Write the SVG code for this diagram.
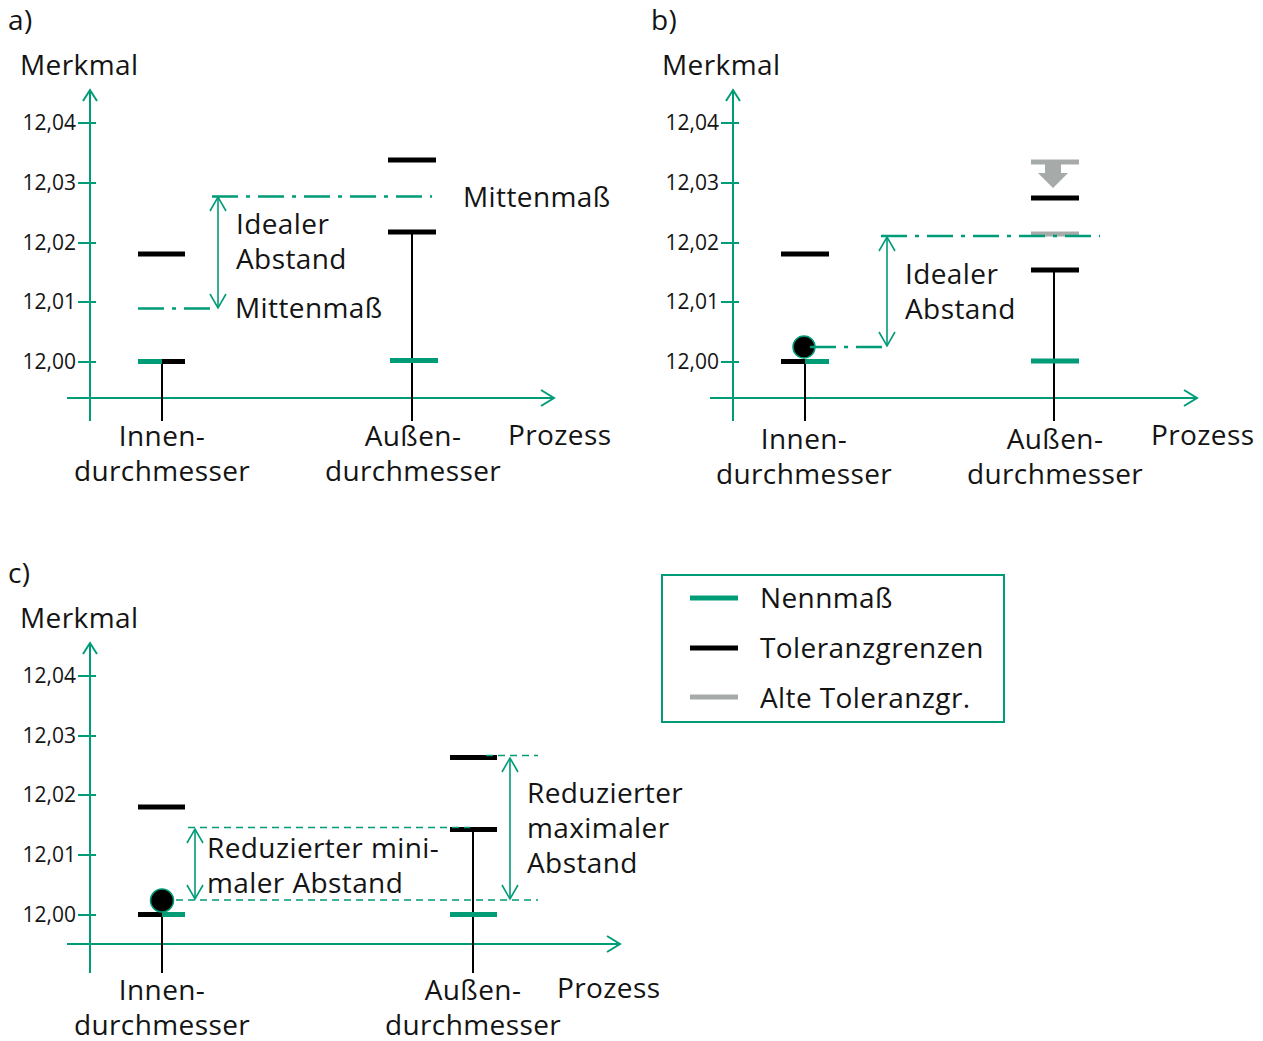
<svg xmlns="http://www.w3.org/2000/svg" width="1263" height="1041" viewBox="0 0 1263 1041">
  <style>
    text { font-family: "Open Sans", "Liberation Sans", sans-serif; fill: #141414; }
    .lbl { font-size: 28px; letter-spacing: 0.4px; }
    .tick { font-size: 21px; text-anchor: end; }
    .mid { text-anchor: middle; }
    .axis { stroke: #009b77; stroke-width: 2; fill: none; }
    .arrowhead { stroke: #009b77; stroke-width: 2; fill: none; }
    .dim { stroke: #009b77; stroke-width: 1.6; fill: none; }
    .nom { stroke: #009b77; stroke-width: 5; }
    .tol { stroke: #000; stroke-width: 5; }
    .old { stroke: #a6aba9; stroke-width: 5; }
    .stem { stroke: #000; stroke-width: 2; }
    .dashdot { stroke: #009b77; stroke-width: 2.4; fill: none; stroke-dasharray: 26 8 4 8; }
    .dashed { stroke: #009b77; stroke-width: 1.6; fill: none; stroke-dasharray: 7 5; }
    .point { fill: #000; stroke: #009b77; stroke-width: 1.5; }
  </style>

  <!-- panel a -->
  <g id="panel-a">
    <text x="8" y="30" class="lbl">a)</text>
    <text x="20" y="75" class="lbl">Merkmal</text>
    <g id="axes-a">
      <line x1="90" y1="421" x2="90" y2="90" class="axis"/>
      <polyline points="83,101 90,90 97,101" class="arrowhead"/>
      <line x1="67" y1="398" x2="554" y2="398" class="axis"/>
      <polyline points="541,390 554,398 541,406" class="arrowhead"/>
      <line x1="78" y1="123" x2="96" y2="123" class="axis"/>
      <line x1="78" y1="183" x2="96" y2="183" class="axis"/>
      <line x1="78" y1="243" x2="96" y2="243" class="axis"/>
      <line x1="78" y1="302" x2="96" y2="302" class="axis"/>
      <line x1="78" y1="362" x2="96" y2="362" class="axis"/>
      <text x="76" y="130" class="tick">12,04</text>
      <text x="76" y="190" class="tick">12,03</text>
      <text x="76" y="250" class="tick">12,02</text>
      <text x="76" y="309" class="tick">12,01</text>
      <text x="76" y="369" class="tick">12,00</text>
      <text x="508" y="445" class="lbl">Prozess</text>
    </g>
    <g id="inner-a">
      <line x1="162" y1="362" x2="162" y2="421" class="stem"/>
      <line x1="138" y1="254" x2="185" y2="254" class="tol"/>
      <line x1="138" y1="361.5" x2="162" y2="361.5" class="nom"/>
      <line x1="162" y1="361.5" x2="185" y2="361.5" class="tol"/>
      <text x="162" y="446" class="lbl mid">Innen-</text>
      <text x="162" y="481" class="lbl mid">durchmesser</text>
    </g>
    <g id="outer-a">
      <line x1="412" y1="232" x2="412" y2="421" class="stem"/>
      <line x1="388" y1="160" x2="436" y2="160" class="tol"/>
      <line x1="388" y1="232" x2="436" y2="232" class="tol"/>
      <line x1="390" y1="360.5" x2="438" y2="360.5" class="nom"/>
      <text x="413" y="446" class="lbl mid">Außen-</text>
      <text x="413" y="481" class="lbl mid">durchmesser</text>
    </g>
    <g id="connectors-a">
      <line x1="212" y1="196.5" x2="432" y2="196.5" class="dashdot"/>
      <line x1="138" y1="308.5" x2="218" y2="308.5" class="dashdot"/>
      <line x1="218" y1="197" x2="218" y2="308" class="dim"/>
      <polyline points="210,211 218,197 226,211" class="dim"/>
      <polyline points="210,294 218,308 226,294" class="dim"/>
    </g>
    <text x="236" y="234" class="lbl">Idealer</text>
    <text x="236" y="269" class="lbl">Abstand</text>
    <text x="235" y="318" class="lbl">Mittenmaß</text>
    <text x="463" y="207" class="lbl">Mittenmaß</text>
  </g>

  <!-- panel b -->
  <g id="panel-b">
    <text x="651" y="30" class="lbl">b)</text>
    <text x="662" y="75" class="lbl">Merkmal</text>
    <g id="axes-b">
      <line x1="733" y1="421" x2="733" y2="90" class="axis"/>
      <polyline points="726,101 733,90 740,101" class="arrowhead"/>
      <line x1="710" y1="398" x2="1197" y2="398" class="axis"/>
      <polyline points="1184,390 1197,398 1184,406" class="arrowhead"/>
      <line x1="721" y1="123" x2="739" y2="123" class="axis"/>
      <line x1="721" y1="183" x2="739" y2="183" class="axis"/>
      <line x1="721" y1="243" x2="739" y2="243" class="axis"/>
      <line x1="721" y1="302" x2="739" y2="302" class="axis"/>
      <line x1="721" y1="362" x2="739" y2="362" class="axis"/>
      <text x="719" y="130" class="tick">12,04</text>
      <text x="719" y="190" class="tick">12,03</text>
      <text x="719" y="250" class="tick">12,02</text>
      <text x="719" y="309" class="tick">12,01</text>
      <text x="719" y="369" class="tick">12,00</text>
      <text x="1151" y="445" class="lbl">Prozess</text>
    </g>
    <g id="inner-b">
      <line x1="805" y1="362" x2="805" y2="421" class="stem"/>
      <line x1="781" y1="254" x2="829" y2="254" class="tol"/>
      <line x1="781" y1="361.5" x2="805" y2="361.5" class="tol"/>
      <line x1="805" y1="361.5" x2="829" y2="361.5" class="nom"/>
      <circle cx="804" cy="347" r="11" class="point"/>
      <text x="804" y="449" class="lbl mid">Innen-</text>
      <text x="804" y="484" class="lbl mid">durchmesser</text>
    </g>
    <g id="outer-b">
      <line x1="1054" y1="270" x2="1054" y2="421" class="stem"/>
      <line x1="1031" y1="162" x2="1079" y2="162" class="old"/>
      <polygon points="1045,163 1061,163 1061,173 1068,173 1053,188 1038,173 1045,173" fill="#a6aba9"/>
      <line x1="1031" y1="198" x2="1079" y2="198" class="tol"/>
      <line x1="1031" y1="234" x2="1079" y2="234" class="old"/>
      <line x1="1031" y1="270" x2="1079" y2="270" class="tol"/>
      <line x1="1031" y1="361" x2="1079" y2="361" class="nom"/>
      <text x="1055" y="449" class="lbl mid">Außen-</text>
      <text x="1055" y="484" class="lbl mid">durchmesser</text>
    </g>
    <g id="connectors-b">
      <line x1="810" y1="347" x2="887" y2="347" class="dashdot"/>
      <line x1="881" y1="236" x2="1100" y2="236" class="dashdot"/>
      <line x1="887" y1="237" x2="887" y2="346" class="dim"/>
      <polyline points="879,251 887,237 895,251" class="dim"/>
      <polyline points="879,332 887,346 895,332" class="dim"/>
    </g>
    <text x="905" y="284" class="lbl">Idealer</text>
    <text x="905" y="319" class="lbl">Abstand</text>
  </g>

  <!-- panel c -->
  <g id="panel-c">
    <text x="8" y="583" class="lbl">c)</text>
    <text x="20" y="628" class="lbl">Merkmal</text>
    <g id="axes-c">
      <line x1="90" y1="973" x2="90" y2="643" class="axis"/>
      <polyline points="83,654 90,643 97,654" class="arrowhead"/>
      <line x1="67" y1="944" x2="620" y2="944" class="axis"/>
      <polyline points="607,936 620,944 607,952" class="arrowhead"/>
      <line x1="78" y1="676" x2="96" y2="676" class="axis"/>
      <line x1="78" y1="736" x2="96" y2="736" class="axis"/>
      <line x1="78" y1="795" x2="96" y2="795" class="axis"/>
      <line x1="78" y1="855" x2="96" y2="855" class="axis"/>
      <line x1="78" y1="915" x2="96" y2="915" class="axis"/>
      <text x="76" y="683" class="tick">12,04</text>
      <text x="76" y="743" class="tick">12,03</text>
      <text x="76" y="802" class="tick">12,02</text>
      <text x="76" y="862" class="tick">12,01</text>
      <text x="76" y="922" class="tick">12,00</text>
      <text x="557" y="998" class="lbl">Prozess</text>
    </g>
    <g id="inner-c">
      <line x1="162" y1="915" x2="162" y2="973" class="stem"/>
      <line x1="138" y1="807" x2="185" y2="807" class="tol"/>
      <line x1="138" y1="914.5" x2="162" y2="914.5" class="tol"/>
      <line x1="162" y1="914.5" x2="185" y2="914.5" class="nom"/>
      <circle cx="162" cy="900.5" r="11.5" class="point"/>
      <text x="162" y="1000" class="lbl mid">Innen-</text>
      <text x="162" y="1035" class="lbl mid">durchmesser</text>
    </g>
    <g id="outer-c">
      <line x1="473" y1="829" x2="473" y2="973" class="stem"/>
      <line x1="450" y1="757.5" x2="497" y2="757.5" class="tol"/>
      <line x1="450" y1="829.5" x2="497" y2="829.5" class="tol"/>
      <line x1="450" y1="914.5" x2="497" y2="914.5" class="nom"/>
      <text x="473" y="1000" class="lbl mid">Außen-</text>
      <text x="473" y="1035" class="lbl mid">durchmesser</text>
    </g>
    <g id="connectors-c">
      <line x1="188" y1="827.5" x2="470" y2="827.5" class="dashed"/>
      <line x1="176" y1="900" x2="538" y2="900" class="dashed"/>
      <line x1="486" y1="755.5" x2="538" y2="755.5" class="dashed"/>
      <line x1="195" y1="829" x2="195" y2="899" class="dim"/>
      <polyline points="187,843 195,829 203,843" class="dim"/>
      <polyline points="187,885 195,899 203,885" class="dim"/>
      <line x1="510" y1="758" x2="510" y2="899" class="dim"/>
      <polyline points="502,772 510,758 518,772" class="dim"/>
      <polyline points="502,885 510,899 518,885" class="dim"/>
    </g>
    <text x="207" y="858" class="lbl">Reduzierter mini-</text>
    <text x="207" y="893" class="lbl">maler Abstand</text>
    <text x="527" y="803" class="lbl">Reduzierter</text>
    <text x="527" y="838" class="lbl">maximaler</text>
    <text x="527" y="873" class="lbl">Abstand</text>
  </g>

  <!-- legend -->
  <g id="legend">
    <rect x="662" y="575" width="342" height="147" fill="none" stroke="#009b77" stroke-width="2"/>
    <line x1="690" y1="598" x2="738" y2="598" class="nom"/>
    <line x1="690" y1="648" x2="738" y2="648" class="tol"/>
    <line x1="690" y1="697" x2="738" y2="697" class="old"/>
    <text x="760" y="608" class="lbl">Nennmaß</text>
    <text x="760" y="658" class="lbl">Toleranzgrenzen</text>
    <text x="760" y="708" class="lbl">Alte Toleranzgr.</text>
  </g>
</svg>
